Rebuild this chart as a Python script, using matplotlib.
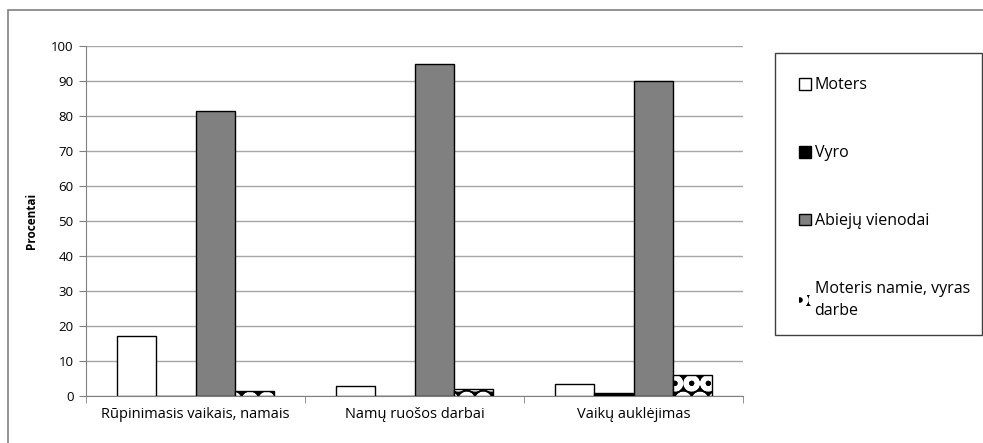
import matplotlib.pyplot as plt
from matplotlib.patches import Rectangle
import numpy as np

plt.rcParams['font.family'] = ['Open Sans', 'DejaVu Sans']

# data
categories = ['Rūpinimasis vaikais, namais', 'Namų ruošos darbai', 'Vaikų auklėjimas']
series_names = ['Moters', 'Vyro', 'Abiejų vienodai', 'Moteris namie, vyras\ndarbe']
moters = [17.1, 2.8, 3.3]
vyro = [0, 0, 0.8]
abieju = [81.5, 95, 90]
moteris_namie = [1.4, 2.1, 6.0]

fig = plt.figure(figsize=(9.83, 4.43), dpi=100)
ax = fig.add_axes([86 / 983, 1 - 396 / 443, (743 - 86) / 983, 350 / 443])

x = np.arange(len(categories))
w = 1 / 5.6
offsets = np.array([-1.5, -0.5, 0.5, 1.5]) * w

b1 = ax.bar(x + offsets[0], moters, w, color='white', edgecolor='black', linewidth=1, zorder=3)
b2 = ax.bar(x + offsets[1], vyro, w, color='black', edgecolor='black', linewidth=1, zorder=3)
b3 = ax.bar(x + offsets[2], abieju, w, color='#808080', edgecolor='black', linewidth=1, zorder=3)
# patterned series: black with white circles, then a black outline on top
plt.rcParams['hatch.linewidth'] = 3.5
b4 = ax.bar(x + offsets[3], moteris_namie, w, color='black', edgecolor='white', hatch='O', linewidth=0, zorder=3)
ax.bar(x + offsets[3], moteris_namie, w, color='none', edgecolor='black', linewidth=1, zorder=4)

ax.set_xlim(-0.5, 2.5)
ax.set_ylim(0, 100)
ax.set_yticks(range(0, 101, 10))
ax.set_xticks(x)
ax.set_xticklabels(categories, fontsize=10.5)
ax.set_xticks([-0.5, 0.5, 1.5, 2.5], minor=True)
ax.tick_params(axis='x', which='major', length=0, pad=8)
ax.tick_params(axis='x', which='minor', length=5, color='#808080')
ax.tick_params(axis='y', length=5, color='#808080', labelsize=9.5, pad=4)
ax.yaxis.grid(True, color='#a6a6a6', linewidth=1, zorder=0)
ax.set_axisbelow(True)
for s in ['top', 'right']:
    ax.spines[s].set_visible(False)
for s in ['left', 'bottom']:
    ax.spines[s].set_color('#808080')
ax.set_ylabel('Procentai', fontsize=8.5, fontweight='bold', labelpad=9)

# outer chart border
fig.patches.append(Rectangle((8 / 983, -0.1), 1.1, 1 - 10 / 443 + 0.1, transform=fig.transFigure,
                             fill=False, edgecolor='#808080', linewidth=1.2))
# legend frame
fig.patches.append(Rectangle((775 / 983, 1 - 335 / 443), (982 - 775) / 983, (335 - 53) / 443,
                             transform=fig.transFigure, fill=False, edgecolor='#404040', linewidth=1))
leg = fig.legend([b1, b2, b3, b4], series_names, loc='upper left',
                 bbox_to_anchor=(785 / 983, 1 - 63 / 443), frameon=False, fontsize=11.5,
                 handlelength=0.75, handleheight=0.75, handletextpad=0.2, labelspacing=3.25)
leg.get_texts()[3].set_linespacing(1.5)

plt.savefig('out.png', dpi=100)
